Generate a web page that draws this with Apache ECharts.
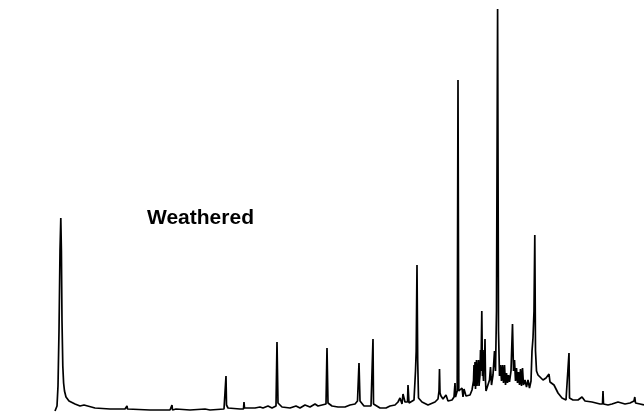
<!DOCTYPE html>
<html><head><meta charset="utf-8">
<script src="https://cdn.jsdelivr.net/npm/echarts@6/dist/echarts.min.js"></script>
<style>html,body{margin:0;padding:0;background:#fff}#c{width:644px;height:414px}</style>
</head><body><div id="c"></div>
<script>
// Retention time (min)
const retentionTime = [0,0.15,0.2,0.3,0.4,0.5,0.58,0.64,0.7,0.78,0.86,0.95,1.1,1.4,2.0,2.5,2.9,3.1,4.0,5.5,7.0,7.15,7.2,7.25,9.5,11.5,11.65,11.7,11.75,12.1,13.5,15.0,15.5,16.9,17.05,17.1,17.15,17.3,18.5,18.85,18.9,18.95,20.0,20.5,20.8,21.3,21.7,22.1,22.2,22.3,22.7,23.5,24.1,24.5,25.0,25.5,26.0,26.3,26.7,27.1,27.2,27.3,27.7,28.3,29.0,29.5,30.0,30.25,30.4,30.5,30.9,31.6,31.75,31.8,31.85,32.0,32.5,33.1,33.5,34.0,34.3,34.5,34.7,34.8,35.0,35.25,35.3,35.4,35.9,36.05,36.12,36.2,36.27,36.35,36.7,37.3,38.0,38.3,38.4,38.45,38.5,38.6,38.8,39.1,39.2,39.3,39.7,39.9,40.0,40.05,40.22,40.3,40.38,40.5,40.7,40.8,40.9,41.1,41.5,41.7,41.85,41.9,41.95,42.0,42.05,42.15,42.2,42.3,42.35,42.4,42.5,42.55,42.6,42.68,42.75,42.8,42.85,42.9,42.95,43.0,43.05,43.1,43.3,43.45,43.55,43.65,43.8,43.95,44.05,44.15,44.26,44.35,44.45,44.55,44.65,44.75,44.85,44.95,45.05,45.15,45.25,45.35,45.45,45.6,45.75,45.85,45.95,46.05,46.15,46.25,46.35,46.45,46.55,46.65,46.75,46.85,47.0,47.15,47.3,47.45,47.6,47.7,47.8,47.9,47.98,48.05,48.15,48.3,48.5,48.8,49.1,49.4,49.5,49.9,50.3,50.7,51.1,51.3,51.4,51.45,51.8,52.3,52.7,53.0,53.7,54.5,54.75,54.8,54.85,55.3,55.7,56.0,56.3,56.5,57.0,57.5,57.9,57.98,58.05,58.5,58.9];
// Abundance (arbitrary units)
const abundance = [0,0,5,25,80,160,193,160,90,45,28,20,14,10,7,5,6,4,3,2,2,2,5,2,1,1,1,6,1,2,1,2,1,2,4,35,6,3,2,2,9,3,3,4,3,5,3,5,69,8,4,3,5,3,6,4,7,5,6,7,63,8,5,4,4,6,7,10,48,10,5,5,6,72,7,5,3,3,5,6,9,13,7,17,9,9,26,8,11,40,60,146,50,13,9,6,9,12,20,42,18,15,12,16,14,10,11,14,28,14,20,331,20,19,23,14,22,15,16,21,30,46,25,49,22,51,25,26,51,25,36,61,40,100,35,41,30,61,40,72,30,20,21,31,44,26,36,60,40,100,402,80,35,46,30,46,28,46,26,38,28,36,29,40,87,40,51,30,43,28,39,26,42,25,43,26,31,24,31,23,30,60,73,100,176,60,40,36,34,31,33,37,29,26,18,13,11,12,58,13,11,11,14,10,9,7,7,20,7,6,7,8,9,7,7,8,10,14,8,7,6];
const sampleLabel = 'Weathered';

const chart = echarts.init(document.getElementById('c'), null, {renderer:'canvas'});
chart.setOption({
  animation:false,
  backgroundColor:'#fff',
  grid:{left:55,right:0,top:0,bottom:3,containLabel:false},
  xAxis:{type:'value',min:0,max:58.9,show:false},
  yAxis:{type:'value',min:0,max:411,show:false},
  graphic:[{type:'text',left:147,top:208,style:{text:sampleLabel,font:'bold 21px "Liberation Sans", Arial, sans-serif',fill:'#000'}}],
  series:[{
    type:'line',
    data:retentionTime.map((t,i)=>[t,abundance[i]]),
    showSymbol:false,
    lineStyle:{color:'#000',width:1.7},
    clip:false
  }]
});
</script></body></html>
